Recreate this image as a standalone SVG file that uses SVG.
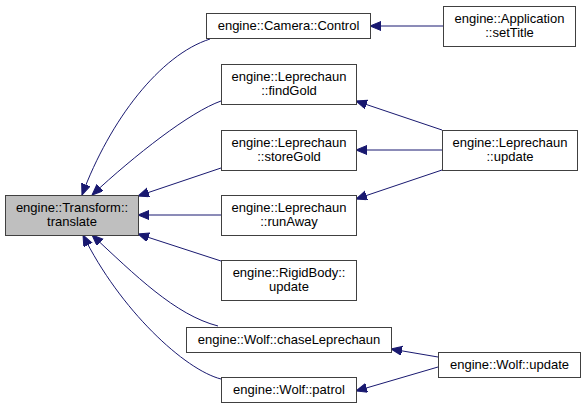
<svg xmlns="http://www.w3.org/2000/svg" width="585" height="409" viewBox="0 0 585 409">
<style>
.n rect{fill:#fff;stroke:#404040;stroke-width:1}
.n.h rect{fill:#bfbfbf}
text{font-family:"Liberation Sans",Arial,sans-serif;font-size:13px;fill:#000;text-anchor:middle}
.e path{fill:none;stroke:#191970;stroke-width:1;marker-end:url(#a)}
</style>
<defs>
<marker id="a" markerUnits="userSpaceOnUse" markerWidth="12" markerHeight="10" refX="11" refY="4.5" orient="auto">
<path d="M0,0 L11,4.5 L0,9 z" fill="#191970" stroke="#191970" stroke-width="1"/>
</marker>
</defs>
<rect width="585" height="409" fill="#fff"/>
<g class="e">
<path d="M210,39 C160,55 110,120 82,195"/>
<path d="M221,101 C190,112 135,155 92,195"/>
<path d="M221,168 L138,196"/>
<path d="M221,215 L138,215"/>
<path d="M221,261 L138,234"/>
<path d="M218,326 C175,315 135,275 92,235"/>
<path d="M221,379 C185,370 120,310 83,235"/>
<path d="M443,26 L370,26"/>
<path d="M442,130 L356,101"/>
<path d="M442,150 L356,150"/>
<path d="M442,170 L356,199"/>
<path d="M438,357 L391,349"/>
<path d="M438,367 L356,391"/>
</g>
<g id="translate" class="n h"><rect x="5.5" y="195.5" width="133" height="40"/><text x="72" y="212">engine::Transform::</text><text x="72" y="226">translate</text></g>
<g id="cameraControl" class="n"><rect x="206.5" y="13.5" width="164" height="25"/><text x="288.5" y="30">engine::Camera::Control</text></g>
<g id="findGold" class="n"><rect x="221.5" y="64.5" width="135" height="40"/><text x="289" y="81">engine::Leprechaun</text><text x="289" y="95">::findGold</text></g>
<g id="storeGold" class="n"><rect x="221.5" y="130.5" width="135" height="40"/><text x="289" y="147">engine::Leprechaun</text><text x="289" y="161">::storeGold</text></g>
<g id="runAway" class="n"><rect x="221.5" y="195.5" width="135" height="40"/><text x="289" y="212">engine::Leprechaun</text><text x="289" y="226">::runAway</text></g>
<g id="rigidBodyUpdate" class="n"><rect x="221.5" y="260.5" width="135" height="40"/><text x="289" y="277">engine::RigidBody::</text><text x="289" y="291">update</text></g>
<g id="chaseLeprechaun" class="n"><rect x="186.5" y="327.5" width="205" height="25"/><text x="289" y="344">engine::Wolf::chaseLeprechaun</text></g>
<g id="patrol" class="n"><rect x="221.5" y="377.5" width="135" height="25"/><text x="289" y="394">engine::Wolf::patrol</text></g>
<g id="setTitle" class="n"><rect x="443.5" y="6.5" width="132" height="40"/><text x="509.5" y="23">engine::Application</text><text x="509.5" y="37">::setTitle</text></g>
<g id="leprechaunUpdate" class="n"><rect x="442.5" y="130.5" width="135" height="40"/><text x="510" y="147">engine::Leprechaun</text><text x="510" y="161">::update</text></g>
<g id="wolfUpdate" class="n"><rect x="438.5" y="352.5" width="142" height="25"/><text x="509.5" y="369">engine::Wolf::update</text></g>
</svg>
